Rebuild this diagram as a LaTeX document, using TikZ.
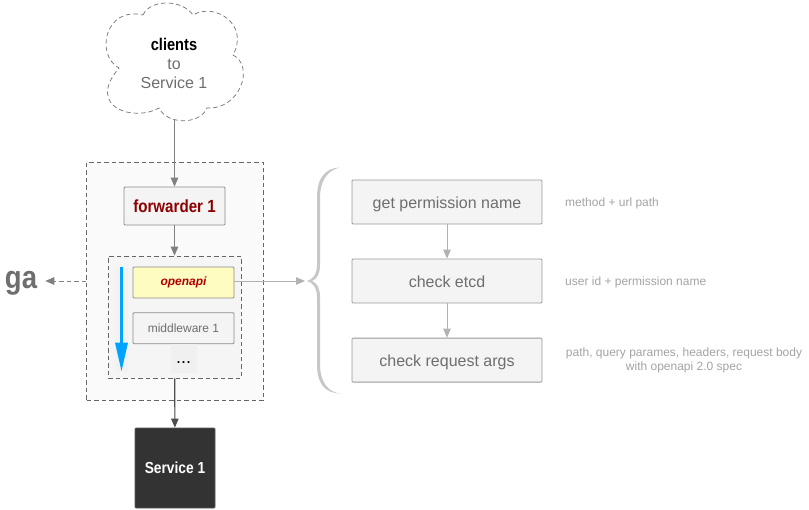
\documentclass[tikz,border=0pt]{standalone}
\usepackage{fontspec}
\setmainfont{Liberation Sans}
\newfontfamily\narrowbf[FakeStretch=0.86]{Liberation Sans Bold}
\usetikzlibrary{positioning, arrows.meta}
\definecolor{txtgray}{HTML}{6E6E6E}
\definecolor{notegray}{HTML}{A3A3A3}
\definecolor{boxfill}{HTML}{F4F4F4}
\definecolor{flowblue}{HTML}{00A4FF}
\tikzset{
  group1/.style = {
    shape = rectangle,
    draw = black!60,
    fill = black!2,
    dash pattern = on 4.5pt off 3pt,
    line width = 0.8pt,
  }
}
\tikzset{
  rect1/.style = {
    shape = rectangle,
    draw = black!45,
    fill = boxfill,
    rounded corners = 1pt,
    align = center,
    inner sep = 0pt,
    line width = 0.8pt,
  }
}
\tikzset{
  step1/.style = {
    rect1,
    draw = black!40,
    minimum width = 190pt,
    minimum height = 44pt,
    text height = 12pt,
    text depth = 0pt,
    text = txtgray,
    font = \fontsize{16}{19}\selectfont,
  }
}
\tikzset{
  note1/.style = {
    text = notegray,
    align = center,
    inner sep = 0pt,
    font = \fontsize{12}{14}\selectfont,
  }
}
\tikzset{
  arrow1/.style = {
    draw = black!50, line width = 1.1pt, -{Triangle[length = 9pt, width = 7.5pt]},
  }
}
\tikzset{
  arrow2/.style = {
    draw = black!30, line width = 0.9pt, -{Triangle[length = 9pt, width = 7.5pt]},
  }
}
\begin{document}
\begin{tikzpicture}[x = 1pt, y = -1pt]
        \useasboundingbox (0, 0) rectangle (809, 509);
        % cloud
        \draw[draw = black!55, fill = white, line width = 0.7pt, dash pattern = on 4.5pt off 3pt]
            (143, 15) .. controls (150, -1) and (182, -1) .. (193, 15)
            .. controls (214, 2) and (250, 24) .. (233, 55)
            .. controls (255, 66) and (240, 110) .. (207, 108)
            .. controls (200, 125) and (167, 125) .. (159, 108)
            .. controls (135, 122) and (85, 108) .. (119, 68)
            .. controls (95, 55) and (105, 6) .. (143, 15) -- cycle;
        \node[align = center, inner sep = 0pt, text = txtgray, font = \fontsize{16}{19}\selectfont] (clients) at (174, 63)
            {{\narrowbf\fontsize{17}{19}\selectfont\color{black}clients}\\to\\Service 1};
        \coordinate (cloudend) at (174.5, 120);
        % forwarder
        \node[group1, minimum width = 177pt, minimum height = 238pt] (outer) at (175, 281) {};
        \node[rect1, minimum width = 101pt, minimum height = 38pt, text = red!55!black,
            font = \narrowbf\fontsize{17.6}{20}\selectfont] (forwarder) at (174.5, 206) {forwarder 1};
        \node[group1, fill = black!4, minimum width = 133pt, minimum height = 122pt] (inner) at (174.5, 317) {};
        \node[rect1, fill = yellow!24!white, minimum width = 101pt, minimum height = 31pt, text = red!70!black,
            font = \bfseries\itshape\fontsize{12}{14}\selectfont] (openapi) at (183.5, 282.5) {openapi};
        \node[rect1, minimum width = 101pt, minimum height = 31pt, below = 14pt of openapi, text = txtgray,
            font = \fontsize{12}{14}\selectfont] (middleware) {middleware 1};
        \node[fill = black!6, minimum width = 26pt, minimum height = 29pt, inner sep = 0pt, below = 0pt of middleware,
            text height = 10pt, text depth = 0pt, font = \fontsize{18}{20}\selectfont] (more) {...};
        % order of the chain
        \node[fill = black!5, minimum width = 13pt, minimum height = 104pt, inner sep = 0pt] (strip) at (121.5, 319.5) {};
        \draw[draw = flowblue, line width = 3.2pt, -{Triangle[length = 29pt, width = 12pt]}] (strip.north) -- (strip.south);
        \node[rect1, draw = black!65, fill = black!80, minimum width = 80pt, minimum height = 80pt, text = white,
            font = \narrowbf\fontsize{16}{18}\selectfont] (service) at (175, 468) {Service 1};
        \node[inner sep = 0pt, text = txtgray, font = \narrowbf\fontsize{32}{36}\selectfont] (ga) at (21, 283) {ga};
        % brace
        \coordinate (bracetip) at (307, 281);
        \coordinate (braceend) at (305, 281);
        \fill[black!22] (340, 167.5) .. controls (325, 168) and (317, 178) .. (317, 198)
            -- (317, 265) .. controls (317, 274) and (313, 279.5) .. (bracetip)
            .. controls (313, 282.5) and (317, 288) .. (317, 297) -- (317, 364)
            .. controls (317, 384) and (325, 393) .. (340, 393.5)
            .. controls (328, 392) and (320, 382) .. (320, 364) -- (320, 297)
            .. controls (320, 288) and (317, 283) .. (312, 281)
            .. controls (317, 279) and (320, 274) .. (320, 265) -- (320, 198)
            .. controls (320, 180) and (328, 170) .. (340, 167.5) -- cycle;
        % steps
        \node[step1] (perm) at (447, 202) {get permission name};
        \node[step1, below = 34.25pt of perm] (etcd) {check etcd};
        \node[step1, below = 34.25pt of etcd] (args) {check request args};
        \node[note1, anchor = west] (permnote) at (565, 203) {method + url path};
        \node[note1, anchor = west] (etcdnote) at (565, 282.5) {user id + permission name};
        \node[note1] (argsnote) at (684, 360.5) {path, query parames, headers, request body\\with openapi 2.0 spec};
        \draw[arrow1](cloudend) -- (forwarder);
        \draw[arrow1](forwarder) -- (inner);
        \draw[arrow1, black!70](inner) -- (service);
        \draw[arrow1, line width = 0.9pt, shorten > = 8pt, dash pattern = on 4.5pt off 3pt](outer.west |- braceend) -- (ga.east |- braceend);
        \draw[arrow2](openapi.east |- braceend) -- (braceend);
        \draw[arrow2](perm) -- (etcd);
        \draw[arrow2](etcd) -- (args);
    \end{tikzpicture}
\end{document}
